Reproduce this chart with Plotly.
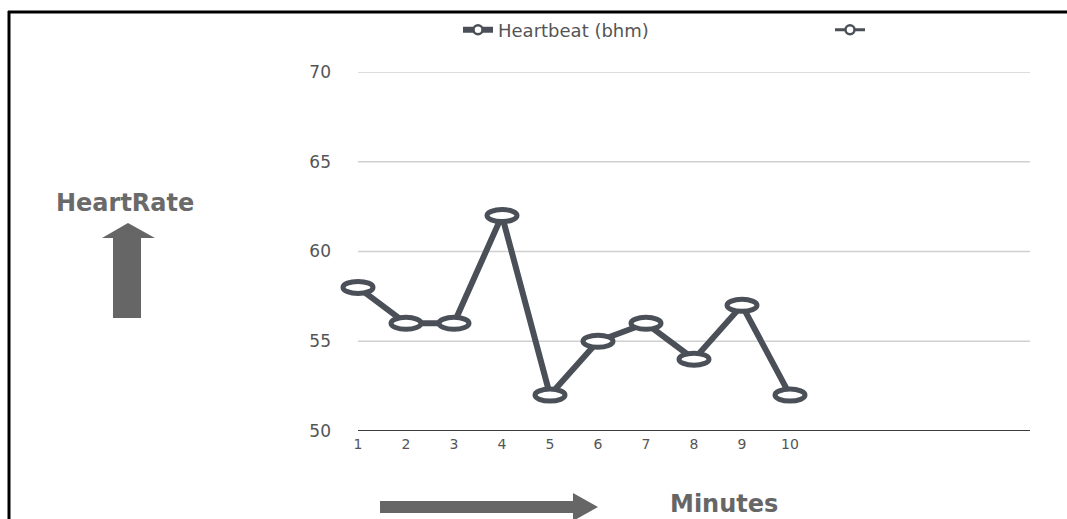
import plotly.graph_objects as go

# ---- data ----
MINUTES = [1, 2, 3, 4, 5, 6, 7, 8, 9, 10]
MINUTE_LABELS = ["1", "2", "3", "4", "5", "6", "7", "8", "9", "10"]
HEARTBEAT = [58, 56, 56, 62, 52, 55, 56, 54, 57, 52]
SECOND_SERIES = [None] * 10
Y_TICKS = [50, 55, 60, 65, 70]
SERIES_NAME = "Heartbeat (bhm)"
SECOND_NAME = " "

# ---- style ----
W, H = 1067, 519
L, R, T, B = 334, 37, 72, 88
PLOT_W = W - L - R
PLOT_H = H - T - B
LINE_COL = "#4b5058"
GRID_COL = "#d0d0d0"
TEXT_COL = "#555555"
ARROW_COL = "#666666"
FONT = "DejaVu Sans"


def px(x):
    return (x - L) / PLOT_W


def py(y):
    return (H - B - y) / PLOT_H


fig = go.Figure()
fig.add_trace(go.Scatter(
    x=MINUTES, y=HEARTBEAT, name=SERIES_NAME, mode="lines+markers",
    line=dict(color=LINE_COL, width=6),
    marker=dict(symbol="circle", size=9, color="white",
                line=dict(color=LINE_COL, width=2.5)),
    cliponaxis=False, legend="legend", showlegend=True,
))
fig.add_trace(go.Scatter(
    x=MINUTES, y=SECOND_SERIES, name=SECOND_NAME, mode="lines+markers",
    line=dict(color=LINE_COL, width=3),
    marker=dict(symbol="circle", size=9, color="white",
                line=dict(color=LINE_COL, width=2.5)),
    legend="legend2", showlegend=True,
))

shapes = []
# gridlines and base axis line through the data scales
for v in Y_TICKS:
    shapes.append(dict(type="line", xref="x", yref="y",
                       x0=MINUTES[0], x1=15, y0=v, y1=v,
                       line=dict(color=("#3c3c3c" if v == Y_TICKS[0] else GRID_COL),
                                 width=(2 if v == Y_TICKS[0] else 1.5)),
                       layer="below"))
# elliptical point markers
for m, h in zip(MINUTES, HEARTBEAT):
    shapes.append(dict(type="circle", xref="x", yref="y",
                       xsizemode="pixel", ysizemode="pixel",
                       xanchor=m, yanchor=h, x0=-15, x1=15, y0=-6, y1=6,
                       line=dict(color=LINE_COL, width=5),
                       fillcolor="white", layer="above"))
# frame border
shapes.append(dict(type="line", xref="paper", yref="paper",
                   x0=px(9), x1=px(9), y0=py(11), y1=py(530),
                   line=dict(color="black", width=3)))
shapes.append(dict(type="line", xref="paper", yref="paper",
                   x0=px(8), x1=px(1075), y0=py(12), y1=py(12),
                   line=dict(color="black", width=3)))


def arrow_path(pts):
    return "M " + " L ".join(f"{px(a):.5f},{py(b):.5f}" for a, b in pts) + " Z"


up_arrow = [(113, 318), (113, 238), (102, 238), (128, 223), (155, 238), (141, 238), (141, 318)]
right_arrow = [(380, 501), (573, 501), (573, 493), (598, 507), (573, 521), (573, 513), (380, 513)]
for pts in (up_arrow, right_arrow):
    shapes.append(dict(type="path", xref="paper", yref="paper",
                       path=arrow_path(pts), fillcolor=ARROW_COL,
                       line=dict(width=0)))

annotations = [
    dict(text="HeartRate", x=px(125), y=py(203), xref="paper", yref="paper",
         xanchor="center", yanchor="middle", showarrow=False,
         font=dict(family=FONT, size=24, color="#6a6a6a", weight="bold")),
    dict(text="Minutes", x=px(724), y=py(504), xref="paper", yref="paper",
         xanchor="center", yanchor="middle", showarrow=False,
         font=dict(family=FONT, size=24, color="#666666", weight="bold")),
]

fig.update_layout(
    width=W, height=H,
    margin=dict(l=L, r=R, t=T, b=B, pad=0),
    paper_bgcolor="white", plot_bgcolor="white",
    font=dict(family=FONT, color=TEXT_COL),
    showlegend=True,
    shapes=shapes, annotations=annotations,
    legend=dict(orientation="h", x=px(458), y=py(30), xanchor="left", yanchor="middle",
                font=dict(family=FONT, size=18, color=TEXT_COL),
                bgcolor="rgba(0,0,0,0)"),
    legend2=dict(orientation="h", x=px(830), y=py(30), xanchor="left", yanchor="middle",
                 font=dict(family=FONT, size=18, color=TEXT_COL),
                 bgcolor="rgba(0,0,0,0)"),
    xaxis=dict(range=[0.5, 15], tickvals=MINUTES, ticktext=MINUTE_LABELS,
               showgrid=False, zeroline=False, showline=False, ticks="",
               ticklabelstandoff=3,
               tickfont=dict(family=FONT, size=14, color=TEXT_COL),
               fixedrange=True),
    yaxis=dict(range=[50, 70], tickvals=Y_TICKS, showgrid=False, zeroline=False,
               showline=False, ticks="", ticklabelstandoff=2,
               tickfont=dict(family=FONT, size=17, color=TEXT_COL),
               fixedrange=True),
)

fig.write_html(
    "out.html",
    config={"displayModeBar": False},
    post_script="document.body.style.margin='0';document.body.style.overflow='hidden';",
)
